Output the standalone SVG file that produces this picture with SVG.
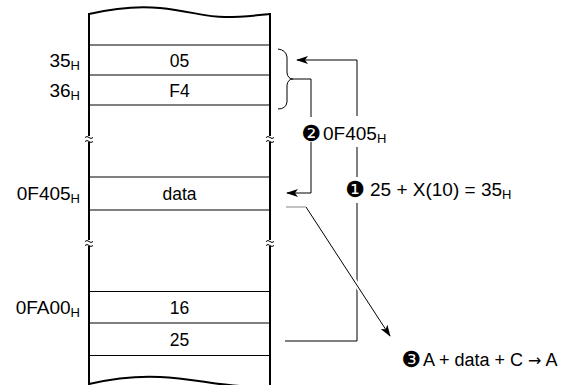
<svg xmlns="http://www.w3.org/2000/svg" width="564" height="385" viewBox="0 0 564 385">
<style>
text{font-family:"Liberation Sans",Arial,sans-serif;font-size:18px;fill:#000}
.c{text-anchor:middle;font-size:17.5px}
.e{text-anchor:end;font-size:19px}
.lb{font-size:19px}
.sub{font-size:13px}
.arr{font-family:"DejaVu Sans",sans-serif;font-size:16px}
.num{font-family:"DejaVu Sans",sans-serif;font-size:22px;text-anchor:middle}
.edge{stroke:#000;stroke-width:2;fill:none}
.row{stroke:#000;stroke-width:1;fill:none}
.ln{stroke:#000;stroke-width:1;fill:none}
.brk{stroke:#000;stroke-width:1;fill:none}
</style>
<defs>
<marker id="ah" markerWidth="12" markerHeight="8" refX="11" refY="4" orient="auto" markerUnits="userSpaceOnUse">
<path d="M0,0 L12,4 L0,8 L3,4 Z" fill="#000"/>
</marker>
</defs>
<g id="memory">
<path class="edge" d="M89,14 C115,8 140,6 160,8 C190,11 205,17 225,17 C245,17 260,15 270,14"/>
<path class="edge" d="M89,384 C115,378 140,376 160,377 C190,378 215,385 240,386"/>
<path class="edge" d="M89,13 V136 M89,142 V240 M89,246 V385"/>
<path class="edge" d="M270,13 V136 M270,142 V240 M270,246 V385"/>
<path class="brk" d="M85,137.5 q2,-2 4,0 t4,0 M85,141.5 q2,-2 4,0 t4,0"/>
<path class="brk" d="M266,137.5 q2,-2 4,0 t4,0 M266,141.5 q2,-2 4,0 t4,0"/>
<path class="brk" d="M85,241.5 q2,-2 4,0 t4,0 M85,245.5 q2,-2 4,0 t4,0"/>
<path class="brk" d="M266,241.5 q2,-2 4,0 t4,0 M266,245.5 q2,-2 4,0 t4,0"/>
<path class="row" d="M89,45H270 M89,75H270 M89,105H270 M89,177H270 M89,210H270 M89,291.5H270 M89,323H270 M89,355.5H270"/>
</g>
<g id="cell-35"><text class="c" x="179.5" y="66.5">05</text><text class="e" x="80" y="66.5">35<tspan class="sub" dy="3">H</tspan></text></g>
<g id="cell-36"><text class="c" x="179.5" y="96.5">F4</text><text class="e" x="80" y="96.5">36<tspan class="sub" dy="3">H</tspan></text></g>
<g id="cell-0F405"><text class="c" x="179.5" y="199.5">data</text><text class="e" x="80" y="199.5">0F405<tspan class="sub" dy="3">H</tspan></text></g>
<g id="cell-0FA00"><text class="c" x="179.5" y="313.5">16</text><text class="e" x="80" y="313.5">0FA00<tspan class="sub" dy="3">H</tspan></text></g>
<g id="cell-0FA01"><text class="c" x="179.5" y="345.5">25</text></g>
<g id="connectors">
<path class="ln" d="M278,49 Q286,50 287,57 L287,73 Q288,79 293,79 Q288,79 287,85 L287,102 Q286,109 278,109" stroke-width="0.8"/>
<path class="ln" d="M285,341 H357 V203 M357,177 V147 M357,116 V60 H297" marker-end="url(#ah)"/>
<path class="ln" d="M293,79 H311 V117 M311,142 V193 H287" marker-end="url(#ah)"/>
<path d="M286,207 H306" stroke="#999" stroke-width="1.2" fill="none"/>
<path d="M306,207 L389,334" stroke="#fff" stroke-width="5" fill="none"/>
<path class="ln" d="M306,207 L390,336" stroke-width="0.8" marker-end="url(#ah)"/>
</g>
<g id="label-1"><text class="num" x="355" y="197">❶</text><text class="lb" x="370" y="196">25 + X(10) = 35<tspan class="sub" dy="3">H</tspan></text></g>
<g id="label-2"><text class="num" x="311" y="141">❷</text><text class="lb" x="323" y="140">0F405<tspan class="sub" dy="3">H</tspan></text></g>
<g id="label-3"><text class="num" x="411" y="367">❸</text><text x="423" y="366">A + data + C <tspan class="arr">→</tspan> A</text></g>
</svg>
